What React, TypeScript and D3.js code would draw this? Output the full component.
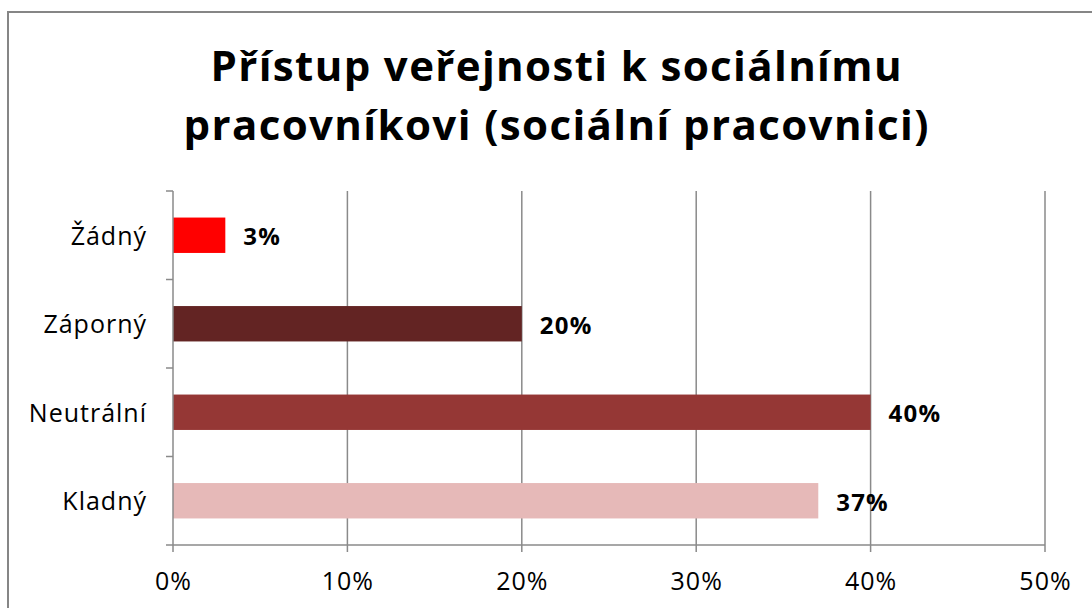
import React, { useEffect, useRef } from "react";
import * as d3 from "d3";

const categories = ["Žádný", "Záporný", "Neutrální", "Kladný"];
const values = [3, 20, 40, 37];
const colors = ["#FF0000", "#632423", "#953735", "#E6B9B8"];
const xTicks = [0, 10, 20, 30, 40, 50];
const titleLines = ["Přístup veřejnosti k sociálnímu", "pracovníkovi (sociální pracovnici)"];
const titleWidths = [691, 745];

const W = 1092;
const H = 608;
const FONT = "'Open Sans', 'Noto Sans', sans-serif";

export default function App() {
  const ref = useRef<SVGSVGElement | null>(null);

  useEffect(() => {
    const svg = d3.select(ref.current);
    svg.selectAll("*").remove();

    const left = 173, right = 1045, top = 191, bottom = 545;
    const x = d3.scaleLinear().domain([0, 50]).range([left, right]);
    const y = d3.scaleBand<string>().domain(categories).range([top, bottom]).paddingInner(0.6).paddingOuter(0.3);
    const yb = d3.scaleBand<string>().domain(categories).range([top, bottom]);

    svg.append("rect").attr("x", 0).attr("y", 0).attr("width", W).attr("height", H).attr("fill", "#fff");
    svg.append("rect").attr("x", 8).attr("y", 12).attr("width", 1200).attr("height", 800)
      .attr("fill", "none").attr("stroke", "#868686").attr("stroke-width", 2);

    // title
    svg.append("g").selectAll("text").data(titleLines).join("text")
      .attr("x", 556).attr("y", (_d, i) => 81 + i * 59)
      .attr("text-anchor", "middle").attr("font-family", FONT).attr("font-weight", "bold")
      .attr("font-size", 42).attr("fill", "#000")
      .attr("textLength", (_d, i) => titleWidths[i]).attr("lengthAdjust", "spacing")
      .text(d => d);

    // gridlines
    svg.append("g").selectAll("line").data(xTicks.slice(1)).join("line")
      .attr("x1", d => x(d)).attr("x2", d => x(d)).attr("y1", top).attr("y2", bottom + 7)
      .attr("stroke", "#8a8a8a").attr("stroke-width", 1.5);

    // bars
    svg.append("g").selectAll("rect").data(values).join("rect")
      .attr("x", x(0)).attr("y", (_d, i) => y(categories[i])!)
      .attr("width", d => x(d) - x(0)).attr("height", y.bandwidth())
      .attr("fill", (_d, i) => colors[i]);

    // axes
    const ax = svg.append("g").attr("stroke", "#8a8a8a").attr("stroke-width", 1.5);
    ax.append("line").attr("x1", left).attr("x2", left).attr("y1", top).attr("y2", bottom + 7);
    ax.append("line").attr("x1", left - 7).attr("x2", right).attr("y1", bottom).attr("y2", bottom);
    const bounds = categories.map(c => yb(c)!);
    ax.selectAll("line.yt").data(bounds).join("line").attr("class", "yt")
      .attr("x1", left - 7).attr("x2", left).attr("y1", d => d).attr("y2", d => d);

    // x tick labels
    svg.append("g").selectAll("text").data(xTicks).join("text")
      .attr("x", d => x(d) + 0.5).attr("y", 590).attr("text-anchor", "middle")
      .attr("font-family", FONT).attr("font-size", 25).attr("letter-spacing", 1).attr("fill", "#000")
      .text(d => `${d}%`);

    // category labels
    svg.append("g").selectAll("text").data(categories).join("text")
      .attr("x", 147).attr("y", d => yb(d)! + yb.bandwidth() / 2 + 9.5)
      .attr("text-anchor", "end").attr("font-family", FONT).attr("font-size", 25)
      .attr("letter-spacing", 1).attr("fill", "#000")
      .text(d => d);

    // data labels
    svg.append("g").selectAll("text").data(values).join("text")
      .attr("x", d => x(d) + 18).attr("y", (_d, i) => yb(categories[i])! + yb.bandwidth() / 2 + 10)
      .attr("font-family", FONT).attr("font-weight", "bold").attr("font-size", 24)
      .attr("letter-spacing", 1.2).attr("fill", "#000")
      .text(d => `${d}%`);
  }, []);

  return (
    <svg ref={ref} width={W} height={H}
      style={{ position: "absolute", left: 0, top: 0, display: "block" }} />
  );
}
